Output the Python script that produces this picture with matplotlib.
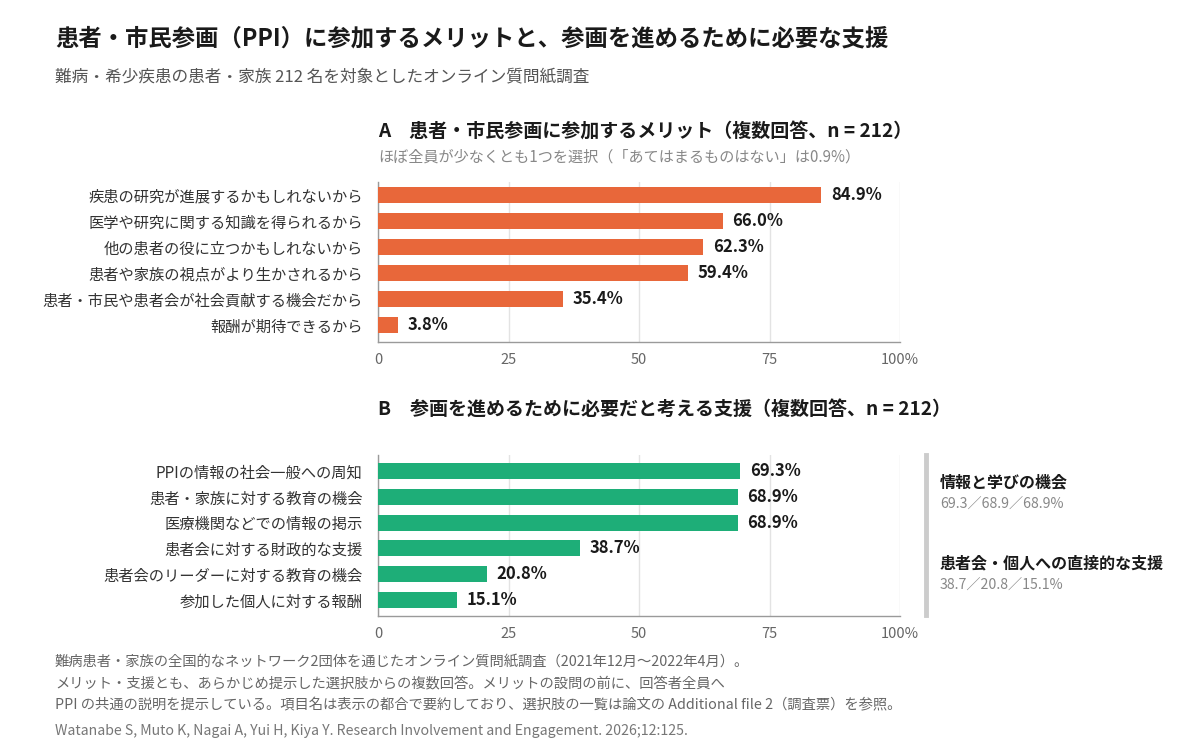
import matplotlib
matplotlib.use('Agg')
import numpy as np
import matplotlib.pyplot as plt

plt.rcParams['font.family'] = ['Noto Sans CJK JP', 'DejaVu Sans']

# data
merit_labels = [
    '疾患の研究が進展するかもしれないから',
    '医学や研究に関する知識を得られるから',
    '他の患者の役に立つかもしれないから',
    '患者や家族の視点がより生かされるから',
    '患者・市民や患者会が社会貢献する機会だから',
    '報酬が期待できるから',
]
merit_values = [84.9, 66.0, 62.3, 59.4, 35.4, 3.8]

support_labels = [
    'PPIの情報の社会一般への周知',
    '患者・家族に対する教育の機会',
    '医療機関などでの情報の掲示',
    '患者会に対する財政的な支援',
    '患者会のリーダーに対する教育の機会',
    '参加した個人に対する報酬',
]
support_values = [69.3, 68.9, 68.9, 38.7, 20.8, 15.1]

x_ticks = [0, 25, 50, 75, 100]
x_ticklabels = ['0', '25', '50', '75', '100%']

group_titles = ['情報と学びの機会', '患者会・個人への直接的な支援']
group_values = ['69.3／68.9／68.9%', '38.7／20.8／15.1%']

c_orange = '#E8673A'
c_green = '#1EAE78'

fig = plt.figure(figsize=(12, 7.5), dpi=100)
fig.set_facecolor('white')


def W(px):
    return px / 1200.


def H(py):
    return 1 - py / 750.


def draw_panel(ax, labels, values, color, ylim):
    y = np.arange(len(values))
    ax.barh(y, values, height=0.62, color=color, zorder=3)
    ax.set_xlim(0, 100)
    ax.set_ylim(*ylim)
    ax.set_yticks(y)
    ax.set_yticklabels(labels, fontsize=11, color='#333333')
    ax.set_xticks(x_ticks)
    ax.set_xticklabels(x_ticklabels, fontsize=10.5, color='#666666')
    ax.tick_params(axis='both', length=0)
    ax.tick_params(axis='y', pad=11)
    ax.tick_params(axis='x', pad=8)
    ax.grid(True, axis='x', color='#e3e3e3', linewidth=1, zorder=0)
    for s in ['top', 'right']:
        ax.spines[s].set_visible(False)
    for s in ['left', 'bottom']:
        ax.spines[s].set_color('#9a9a9a')
        ax.spines[s].set_linewidth(1)
    for yi, v in zip(y, values):
        ax.text(v + 1.9, yi, '%.1f%%' % v, va='center', ha='left',
                fontsize=12, fontweight='bold', color='#1a1a1a')


axA = fig.add_axes([W(378), H(342), W(522), H(182) - H(342)])
draw_panel(axA, merit_labels, merit_values, c_orange, (5.65, -0.5))

axB = fig.add_axes([W(378), H(616), W(522), H(455) - H(616)])
draw_panel(axB, support_labels, support_values, c_green, (5.62, -0.62))

# titles
fig.text(W(55), H(38), '患者・市民参画（PPI）に参加するメリットと、参画を進めるために必要な支援',
         fontsize=16.8, fontweight='bold', color='#1a1a1a', va='center', ha='left')
fig.text(W(55), H(77), '難病・希少疾患の患者・家族 212 名を対象としたオンライン質問紙調査',
         fontsize=12, color='#555555', va='center', ha='left')

fig.text(W(378), H(132), 'A　患者・市民参画に参加するメリット（複数回答、n = 212）',
         fontsize=13.7, fontweight='bold', color='#1a1a1a', va='center', ha='left')
fig.text(W(378), H(157), 'ほぼ全員が少なくとも1つを選択（「あてはまるものはない」は0.9%）',
         fontsize=10.9, color='#888888', va='center', ha='left')

fig.text(W(378), H(409), 'B　参画を進めるために必要だと考える支援（複数回答、n = 212）',
         fontsize=13.7, fontweight='bold', color='#1a1a1a', va='center', ha='left')

# group bracket on the right
fig.add_artist(plt.Line2D([W(926), W(926)], [H(455), H(615)],
                          color='#cccccc', linewidth=3.5))
fig.text(W(940), H(482), group_titles[0], fontsize=11.5, fontweight='bold',
         color='#1a1a1a', va='center', ha='left')
fig.text(W(940), H(505), group_values[0], fontsize=10.2, color='#888888',
         va='center', ha='left')
fig.text(W(940), H(563), group_titles[1], fontsize=11.5, fontweight='bold',
         color='#1a1a1a', va='center', ha='left')
fig.text(W(940), H(586), group_values[1], fontsize=10.2, color='#888888',
         va='center', ha='left')

# footnotes
notes = [
    '難病患者・家族の全国的なネットワーク2団体を通じたオンライン質問紙調査（2021年12月～2022年4月）。',
    'メリット・支援とも、あらかじめ提示した選択肢からの複数回答。メリットの設問の前に、回答者全員へ',
    'PPI の共通の説明を提示している。項目名は表示の都合で要約しており、選択肢の一覧は論文の Additional file 2（調査票）を参照。',
]
for i, ln in enumerate(notes):
    fig.text(W(55), H(662 + 21.5 * i), ln, fontsize=10.3, color='#666666',
             va='center', ha='left')
fig.text(W(55), H(731), 'Watanabe S, Muto K, Nagai A, Yui H, Kiya Y. Research Involvement and Engagement. 2026;12:125.',
         fontsize=10.2, color='#777777', va='center', ha='left')

fig.savefig('out.png', dpi=100, facecolor='white')
